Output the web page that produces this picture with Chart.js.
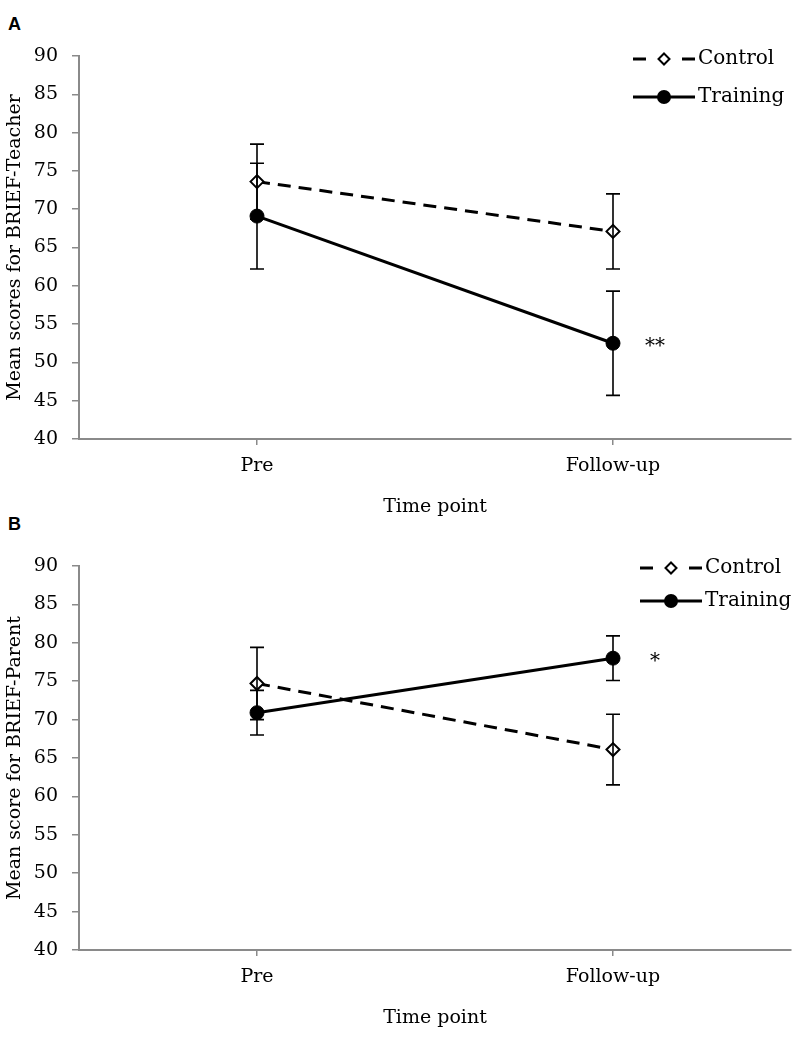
<!DOCTYPE html>
<html>
<head>
<meta charset="utf-8">
<script src="https://cdn.jsdelivr.net/npm/chart.js@4.4.0/dist/chart.umd.min.js"></script>
<style>
  html, body { margin: 0; padding: 0; background: #ffffff; width: 800px; height: 1048px; overflow: hidden; }
  canvas { position: absolute; left: 0; }
  .panel { position: absolute; left: 8px; font-family: "Liberation Sans", Arial, sans-serif; font-weight: bold; font-size: 18px; line-height: normal; color: #000; }
</style>
</head>
<body>
<div class="panel" style="top:14px;">A</div>
<div class="panel" style="top:514px;">B</div>
<canvas id="chartA" width="800" height="522" style="top:0px;width:800px;height:522px;"></canvas>
<canvas id="chartB" width="800" height="538" style="top:510px;width:800px;height:538px;"></canvas>
<script>
// ---- Data ----
const categories = ['Pre', 'Follow-up'];
const seriesNames = ['Control', 'Training'];

const teacherControl = [73.6, 67.1];
const teacherControlErr = [4.9, 4.9];
const teacherTraining = [69.1, 52.5];
const teacherTrainingErr = [6.9, 6.8];
const teacherSignificance = ['', '**'];

const parentControl = [74.7, 66.1];
const parentControlErr = [4.7, 4.6];
const parentTraining = [70.9, 78.0];
const parentTrainingErr = [2.9, 2.9];
const parentSignificance = ['', '*'];

const yMin = 40, yMax = 90, yStep = 5;
const xTitle = 'Time point';
const yTitleA = 'Mean scores for BRIEF-Teacher';
const yTitleB = 'Mean score for BRIEF-Parent';

// ---- Plugins ----
const errorBarPlugin = {
  id: 'errorBars',
  afterDatasetsDraw(chart) {
    const ctx = chart.ctx;
    const ys = chart.scales.y;
    ctx.save();
    ctx.strokeStyle = '#000';
    ctx.lineWidth = 1.6;
    ctx.setLineDash([]);
    chart.data.datasets.forEach((ds, i) => {
      if (!ds.errors) return;
      const meta = chart.getDatasetMeta(i);
      meta.data.forEach((el, j) => {
        const v = ds.data[j], e = ds.errors[j];
        const x = el.x;
        const yt = ys.getPixelForValue(v + e);
        const yb = ys.getPixelForValue(v - e);
        ctx.beginPath();
        ctx.moveTo(x, yt); ctx.lineTo(x, yb);
        ctx.moveTo(x - 7, yt); ctx.lineTo(x + 7, yt);
        ctx.moveTo(x - 7, yb); ctx.lineTo(x + 7, yb);
        ctx.stroke();
      });
    });
    ctx.restore();
  }
};

const sigPlugin = {
  id: 'sigMarks',
  afterDatasetsDraw(chart, args, opts) {
    if (!opts || !opts.labels) return;
    const ctx = chart.ctx;
    const xs = chart.scales.x, ys = chart.scales.y;
    const ref = chart.data.datasets[opts.datasetIndex].data;
    ctx.save();
    ctx.fillStyle = '#000';
    ctx.font = '20px "DejaVu Serif", serif';
    ctx.textAlign = 'center';
    ctx.textBaseline = 'middle';
    opts.labels.forEach((t, j) => {
      if (!t) return;
      ctx.fillText(t, xs.getPixelForValue(j) + opts.dx, ys.getPixelForValue(ref[j]) + opts.dy);
    });
    ctx.restore();
  }
};

const legendPlugin = {
  id: 'customLegend',
  afterDraw(chart, args, opts) {
    if (!opts || !opts.items) return;
    const ctx = chart.ctx;
    ctx.save();
    opts.items.forEach((it, k) => {
      const ds = chart.data.datasets[k];
      const x0 = opts.x, x1 = opts.x + opts.lineLen, y = opts.y + k * opts.gap;
      const xm = (x0 + x1) / 2;
      ctx.strokeStyle = '#000';
      ctx.lineWidth = 3;
      ctx.setLineDash([]);
      ctx.beginPath();
      if (ds.borderDash && ds.borderDash.length) {
        ctx.moveTo(x0, y); ctx.lineTo(x0 + 13, y);
        ctx.moveTo(x1 - 13, y); ctx.lineTo(x1, y);
      } else {
        ctx.moveTo(x0, y); ctx.lineTo(x1, y);
      }
      ctx.stroke();
      ctx.beginPath();
      if (ds.pointStyle === 'rectRot') {
        const r = 5.5;
        ctx.moveTo(xm, y - r); ctx.lineTo(xm + r, y); ctx.lineTo(xm, y + r); ctx.lineTo(xm - r, y); ctx.closePath();
        ctx.fillStyle = '#fff'; ctx.fill();
        ctx.lineWidth = 2; ctx.stroke();
      } else {
        ctx.arc(xm, y, 7, 0, Math.PI * 2);
        ctx.fillStyle = '#000'; ctx.fill();
      }
      ctx.fillStyle = '#000';
      ctx.font = '20px "DejaVu Serif", serif';
      ctx.textAlign = 'left';
      ctx.textBaseline = 'middle';
      ctx.fillText(it, x1 + 3, y);
    });
    ctx.restore();
  }
};

Chart.register(errorBarPlugin, sigPlugin, legendPlugin);

const axisGray = '#8a8a8a';
const tickFont = { family: '"DejaVu Serif", serif', size: 19 };

function makeChart(id, control, controlErr, training, trainingErr, sig, yTitle, padBottom, legendPos) {
  return new Chart(document.getElementById(id), {
    type: 'line',
    data: {
      labels: categories,
      datasets: [
        {
          label: seriesNames[0],
          data: control,
          errors: controlErr,
          borderColor: '#000',
          borderWidth: 3,
          borderDash: [13, 8],
          pointStyle: 'rectRot',
          pointRadius: 6.5,
          pointBackgroundColor: '#fff',
          pointBorderColor: '#000',
          pointBorderWidth: 2,
          tension: 0,
          fill: false
        },
        {
          label: seriesNames[1],
          data: training,
          errors: trainingErr,
          borderColor: '#000',
          borderWidth: 3,
          pointStyle: 'circle',
          pointRadius: 7,
          pointBackgroundColor: '#000',
          pointBorderColor: '#000',
          pointBorderWidth: 1,
          tension: 0,
          fill: false
        }
      ]
    },
    options: {
      responsive: false,
      animation: false,
      devicePixelRatio: 1,
      layout: { padding: { left: 0, right: 9, top: 56, bottom: padBottom } },
      plugins: {
        legend: { display: false },
        tooltip: { enabled: false },
        sigMarks: { labels: sig, datasetIndex: 1, dx: 42, dy: 4 },
        customLegend: { items: seriesNames, x: legendPos.x, y: legendPos.y, gap: legendPos.gap, lineLen: 62 }
      },
      scales: {
        x: {
          type: 'category',
          offset: true,
          afterFit: (s) => { s.height = 83; },
          border: { display: true, color: axisGray, width: 2 },
          grid: { display: true, drawOnChartArea: false, drawTicks: true, tickLength: 6, color: axisGray, lineWidth: 1.5, offset: false },
          ticks: { color: '#000', font: tickFont, padding: 10 },
          title: { display: true, text: xTitle, color: '#000', font: tickFont, padding: { top: 4, bottom: 4 } }
        },
        y: {
          min: yMin,
          max: yMax,
          afterFit: (s) => { s.width = 79; },
          border: { display: true, color: axisGray, width: 2 },
          grid: { display: true, drawOnChartArea: false, drawTicks: true, tickLength: 7, color: axisGray, lineWidth: 1.5 },
          ticks: { stepSize: yStep, color: '#000', font: tickFont, padding: 14 },
          title: { display: true, text: yTitle, color: '#000', font: tickFont, padding: { top: 4, bottom: 4 } }
        }
      }
    }
  });
}

makeChart('chartA', teacherControl, teacherControlErr, teacherTraining, teacherTrainingErr, teacherSignificance, yTitleA, 0, { x: 633, y: 59, gap: 38 });
makeChart('chartB', parentControl, parentControlErr, parentTraining, parentTrainingErr, parentSignificance, yTitleB, 15, { x: 640, y: 58, gap: 33 });
</script>
</body>
</html>
